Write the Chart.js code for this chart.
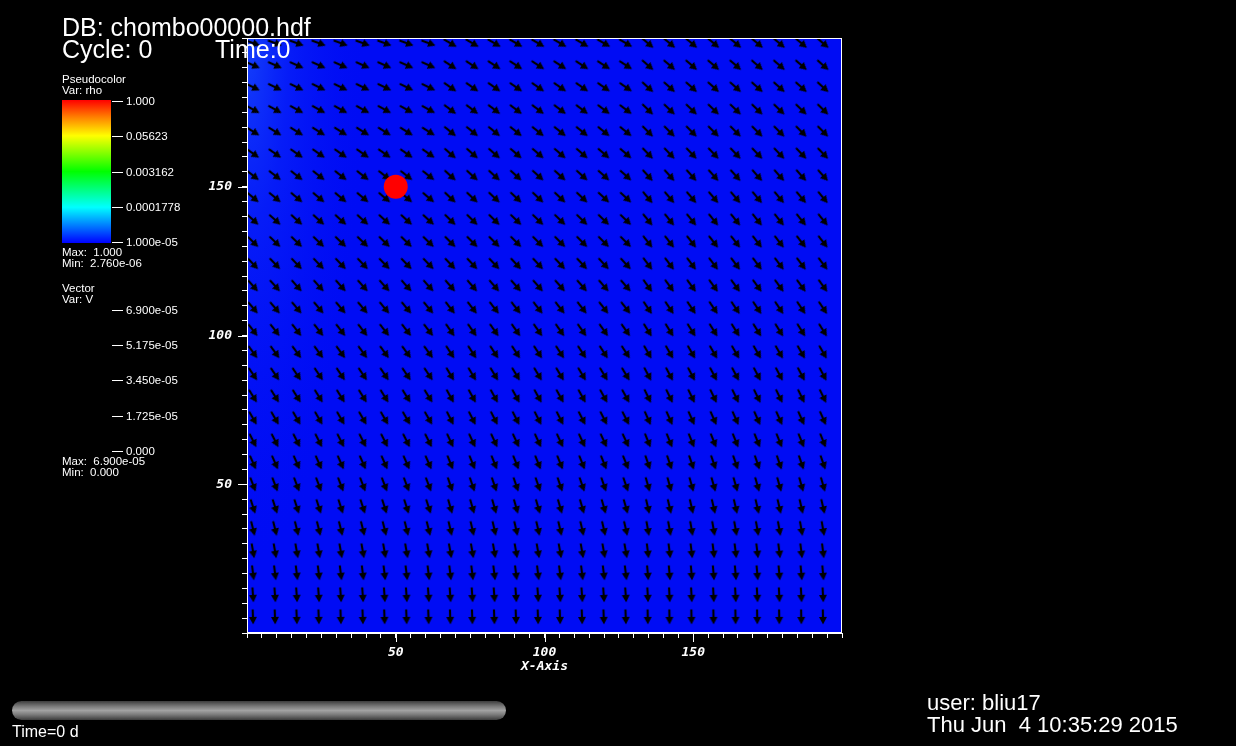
<!DOCTYPE html>
<html>
<head>
<meta charset="utf-8">
<script src="https://cdn.jsdelivr.net/npm/chart.js@4.4.1/dist/chart.umd.min.js"></script>
<style>
  html, body { margin: 0; padding: 0; background: #000; }
  #wrap { position: relative; width: 1236px; height: 746px; overflow: hidden; background: #000; }
  #plot { position: absolute; left: 0; top: 0; }
  .t { position: absolute; color: #fff; font-family: "Liberation Sans", Arial, sans-serif; white-space: pre; line-height: 1; }
  .tk { position: absolute; height: 1px; width: 11px; left: 112px; background: #fff; }
  #cbar { position: absolute; left: 62px; top: 100px; width: 49px; height: 143px;
          background: linear-gradient(to bottom, #ff0000 0%, #ff8000 12%, #ffff00 25%, #00ff00 50%, #00ffff 75%, #0000ff 100%); }
  #slider { position: absolute; left: 12px; top: 701px; width: 494px; height: 19px; border-radius: 10px;
            background: linear-gradient(to bottom, #3c3c3c 0%, #7a7a7a 28%, #a2a2a2 50%, #7a7a7a 72%, #3c3c3c 100%); }
</style>
</head>
<body>
<div id="wrap">
  <canvas id="plot" width="1236" height="746"></canvas>
  <div id="cbar"></div>
  <div id="slider"></div>
</div>
<script>
// vector glyph grid (data units)
const gridX = [2.0, 9.4, 16.7, 24.1, 31.5, 38.9, 46.2, 53.6, 61.0, 68.3, 75.7, 83.1, 90.4, 97.8,
               105.2, 112.6, 119.9, 127.3, 134.7, 142.0, 149.4, 156.8, 164.2, 171.5, 178.9, 186.3, 193.6];
const gridY = [198.3, 190.9, 183.5, 176.0, 168.6, 161.2, 153.8, 146.4, 138.9, 131.5, 124.1, 116.7, 109.3, 101.8,
               94.4, 87.0, 79.6, 72.2, 64.7, 57.3, 49.9, 42.5, 35.1, 27.6, 20.2, 12.8, 5.4];

// arrow angle (degrees below horizontal) per row, read for three column bands
const angleWest = [20, 24, 26, 29, 32, 35, 38, 40, 42, 44, 46, 48, 50, 52, 54, 56, 58, 60, 63, 66, 69, 72, 76, 80, 83, 86, 88];
const angleMid  = [30, 33, 35, 37, 39, 41, 42, 43, 44, 45, 47, 49, 52, 55, 57, 59, 61, 63, 65, 68, 71, 74, 77, 80, 83, 86, 88];
const angleEast = [40, 41, 42, 44, 45, 46, 48, 50, 51, 52, 53, 54, 56, 58, 60, 62, 64, 66, 68, 71, 74, 77, 80, 83, 85, 87, 89];

// the dense blob
const blobX = [50];
const blobY = [150];

const majorTicks = [50, 100, 150];
const rhoTickLabels = ["1.000", "0.05623", "0.003162", "0.0001778", "1.000e-05"];
const vecTickLabels = ["6.900e-05", "5.175e-05", "3.450e-05", "1.725e-05", "0.000"];

const wrap = document.getElementById("wrap");

// text at a baseline
function addText(txt, x, base, size) {
  let d = document.createElement("div");
  d.className = "t";
  d.textContent = txt;
  d.style.left = x + "px";
  d.style.top = (base - 0.847 * size) + "px";
  d.style.fontSize = size + "px";
  wrap.appendChild(d);
}

addText("DB: chombo00000.hdf", 62, 36, 25);
addText("Cycle: 0", 62, 58, 25);
addText("Time:0", 215, 58, 25);

addText("Pseudocolor", 62, 84, 11.5);
addText("Var: rho", 62, 95, 11.5);
const rhoTickY = [101, 136, 172, 207, 242];
rhoTickLabels.forEach((lab, i) => {
  let tk = document.createElement("div");
  tk.className = "tk";
  tk.style.top = rhoTickY[i] + "px";
  wrap.appendChild(tk);
  addText(lab, 126, rhoTickY[i] + 4.5, 11.5);
});
addText("Max:  1.000", 62, 257, 11.5);
addText("Min:  2.760e-06", 62, 267.5, 11.5);

addText("Vector", 62, 293, 11.5);
addText("Var: V", 62, 304, 11.5);
const vecTickY = [310, 345, 380, 416, 451];
vecTickLabels.forEach((lab, i) => {
  let tk = document.createElement("div");
  tk.className = "tk";
  tk.style.top = vecTickY[i] + "px";
  wrap.appendChild(tk);
  addText(lab, 126, vecTickY[i] + 4.5, 11.5);
});
addText("Max:  6.900e-05", 62, 466, 11.5);
addText("Min:  0.000", 62, 477, 11.5);

addText("Time=0 d", 12, 738, 16);
addText("user: bliu17", 927, 711, 22);
addText("Thu Jun  4 10:35:29 2015", 927, 733, 22);

// arrow glyph, pointing right; Chart.js rotates it per point
const arrowImg = document.createElement("canvas");
arrowImg.width = 22;
arrowImg.height = 22;
const ac = arrowImg.getContext("2d");
ac.fillStyle = "#000";
ac.strokeStyle = "#000";
ac.lineWidth = 2.2;
ac.beginPath();
ac.moveTo(3.5, 11);
ac.lineTo(13, 11);
ac.stroke();
ac.beginPath();
ac.moveTo(18.5, 11);
ac.lineTo(11, 7);
ac.lineTo(11, 15);
ac.closePath();
ac.fill();

const arrowPts = [];
gridY.forEach((y, r) => {
  gridX.forEach((x, c) => {
    const band = c < 9 ? angleWest : (c < 18 ? angleMid : angleEast);
    arrowPts.push({ x: x, y: y, a: band[r] });
  });
});
const blobPts = blobX.map((x, i) => ({ x: x, y: blobY[i] }));

const tickFont = { family: '"DejaVu Sans Mono", monospace', size: 13, weight: "bold", style: "italic" };

// blue field behind the glyphs
const fieldBg = {
  id: "fieldBg",
  beforeDraw(chart) {
    const { ctx, chartArea: a } = chart;
    ctx.save();
    ctx.fillStyle = "rgb(0,12,244)";
    ctx.fillRect(a.left, a.top, a.width, a.height);
    ctx.beginPath();
    ctx.rect(a.left, a.top, a.width, a.height);
    ctx.clip();
    ctx.translate(a.left, a.top);
    ctx.scale(1, 4.5);
    let g = ctx.createRadialGradient(0, 0, 0, 0, 0, 120);
    g.addColorStop(0, "rgba(35,100,255,0.6)");
    g.addColorStop(0.35, "rgba(20,65,255,0.3)");
    g.addColorStop(1, "rgba(0,12,244,0)");
    ctx.fillStyle = g;
    ctx.fillRect(0, 0, a.width, a.height / 4.5);
    ctx.restore();
  }
};

// white frame and the longer major ticks
const frame = {
  id: "frame",
  afterDraw(chart) {
    const { ctx, chartArea: a, scales } = chart;
    ctx.save();
    ctx.strokeStyle = "#fff";
    ctx.lineWidth = 1;
    ctx.strokeRect(Math.round(a.left) + 0.5, Math.round(a.top) + 0.5,
                   Math.round(a.width) - 1, Math.round(a.height) - 1);
    ctx.beginPath();
    majorTicks.forEach(v => {
      const px = Math.round(scales.x.getPixelForValue(v)) + 0.5;
      ctx.moveTo(px, a.bottom);
      ctx.lineTo(px, a.bottom + 9);
      const py = Math.round(scales.y.getPixelForValue(v)) + 0.5;
      ctx.moveTo(a.left, py);
      ctx.lineTo(a.left - 9, py);
    });
    ctx.stroke();
    ctx.restore();
  }
};

new Chart(document.getElementById("plot"), {
  type: "scatter",
  data: {
    datasets: [
      {
        data: blobPts,
        pointStyle: "circle",
        pointRadius: 12,
        pointBackgroundColor: "#ff0000",
        pointBorderWidth: 0
      },
      {
        data: arrowPts,
        pointStyle: arrowImg,
        pointRadius: 8,
        pointRotation: ctx => (ctx.raw ? ctx.raw.a : 0)
      }
    ]
  },
  options: {
    responsive: false,
    animation: false,
    events: [],
    layout: { padding: { left: 207, top: 38, right: 394, bottom: 63 } },
    plugins: { legend: { display: false }, tooltip: { enabled: false } },
    scales: {
      x: {
        type: "linear",
        min: 0,
        max: 200,
        afterFit: s => { s.height = 50; },
        border: { color: "#fff", width: 1 },
        grid: { drawOnChartArea: false, color: "#fff", tickColor: "#fff", tickLength: 5 },
        ticks: {
          stepSize: 5, autoSkip: false, maxRotation: 0, color: "#fff", padding: 7, font: tickFont,
          callback: v => (majorTicks.includes(v) ? String(v) : "")
        },
        title: { display: true, text: "X-Axis", color: "#fff", font: tickFont, padding: { top: 0, bottom: 9 } }
      },
      y: {
        type: "linear",
        min: 0,
        max: 200,
        afterFit: s => { s.width = 40; },
        border: { color: "#fff", width: 1 },
        grid: { drawOnChartArea: false, color: "#fff", tickColor: "#fff", tickLength: 5 },
        ticks: {
          stepSize: 5, autoSkip: false, color: "#fff", padding: 10, font: tickFont,
          callback: v => (majorTicks.includes(v) ? String(v) : "")
        }
      }
    }
  },
  plugins: [fieldBg, frame]
});
</script>
</body>
</html>
